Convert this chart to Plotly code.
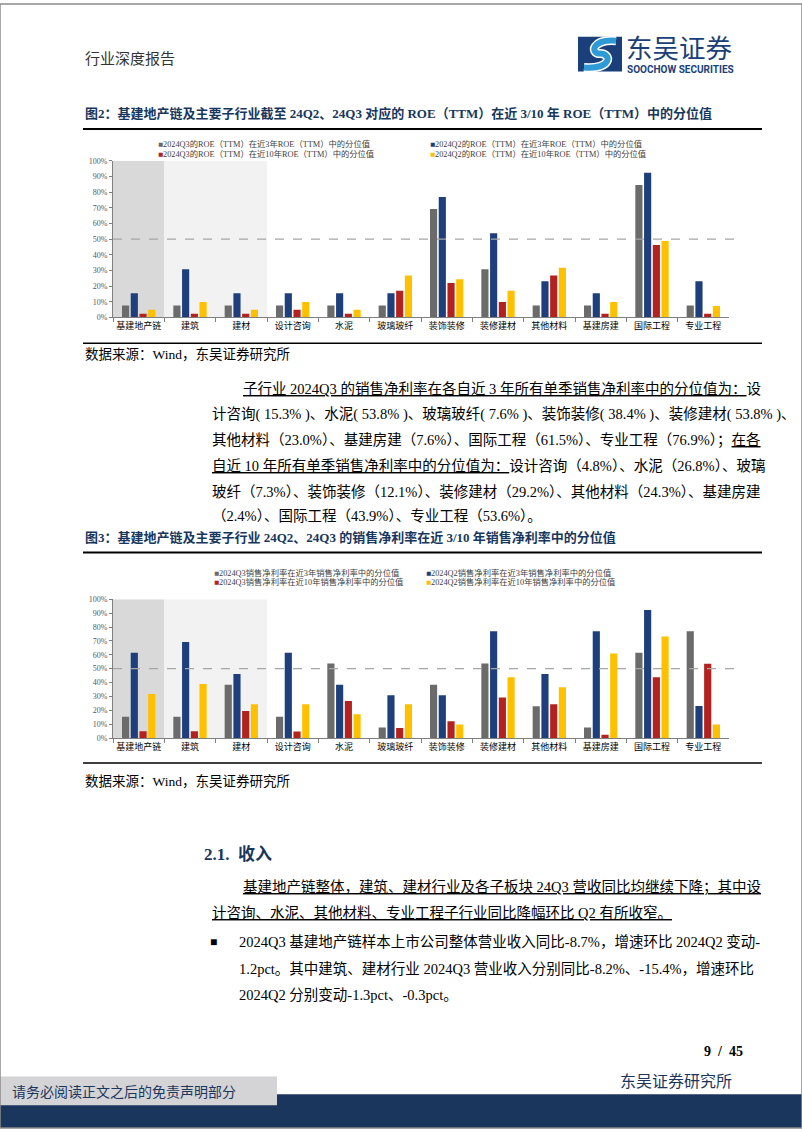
import plotly.graph_objects as go

W, H = 802, 1133

# ---------------- data ----------------
categories = ["基建地产链", "建筑", "建材", "设计咨询", "水泥", "玻璃玻纤",
              "装饰装修", "装修建材", "其他材料", "基建房建", "国际工程", "专业工程"]

roe_names = ["2024Q3的ROE（TTM）在近3年ROE（TTM）中的分位值",
             "2024Q2的ROE（TTM）在近3年ROE（TTM）中的分位值",
             "2024Q3的ROE（TTM）在近10年ROE（TTM）中的分位值",
             "2024Q2的ROE（TTM）在近10年ROE（TTM）中的分位值"]
roe_q3_3y = [7.7, 7.7, 7.7, 7.7, 7.7, 7.7, 69.2, 30.8, 7.7, 7.7, 84.6, 7.7]
roe_q2_3y = [15.4, 30.8, 15.4, 15.4, 15.4, 15.4, 76.9, 53.8, 23.1, 15.4, 92.3, 23.1]
roe_q3_10y = [2.4, 2.4, 2.4, 4.9, 2.4, 17.1, 22.0, 9.8, 26.8, 2.4, 46.3, 2.4]
roe_q2_10y = [4.9, 9.8, 4.9, 9.8, 4.9, 26.8, 24.4, 17.1, 31.7, 9.8, 48.8, 7.3]

npm_names = ["2024Q3销售净利率在近3年销售净利率中的分位值",
             "2024Q2销售净利率在近3年销售净利率中的分位值",
             "2024Q3销售净利率在近10年销售净利率中的分位值",
             "2024Q2销售净利率在近10年销售净利率中的分位值"]
npm_q3_3y = [15.4, 15.4, 38.5, 15.3, 53.8, 7.6, 38.4, 53.8, 23.0, 7.6, 61.5, 76.9]
npm_q2_3y = [61.5, 69.2, 46.2, 61.5, 38.5, 30.8, 30.8, 76.9, 46.2, 76.9, 92.3, 23.1]
npm_q3_10y = [4.9, 4.9, 19.5, 4.8, 26.8, 7.3, 12.1, 29.2, 24.3, 2.4, 43.9, 53.6]
npm_q2_10y = [31.7, 39.0, 24.4, 24.4, 17.1, 24.4, 9.8, 43.9, 36.6, 61.0, 73.2, 9.8]

y_ticks = [0, 10, 20, 30, 40, 50, 60, 70, 80, 90, 100]
y_tick_labels = ["0%", "10%", "20%", "30%", "40%", "50%", "60%", "70%", "80%", "90%", "100%"]

# ---------------- style ----------------
colors = ["#6B6B6B", "#1F3F7C", "#B3221F", "#FFC000"]
SERIF = "Liberation Serif, Times New Roman, Noto Sans CJK SC"
CJK = "Noto Sans CJK SC, Liberation Serif"
NAVY = "#17375E"


def px(x):
    return x / W


def py(y):
    return 1 - y / H


annotations = []
shapes = []


def text(x, y, s, size, color="#000000", bold=False, xanchor="left", family=SERIF):
    if bold:
        s = "<b>" + s + "</b>"
    annotations.append(dict(x=px(x), y=py(y), xref="paper", yref="paper", text=s,
                            showarrow=False, xanchor=xanchor, yanchor="middle",
                            font=dict(size=size, color=color, family=family)))


def hline(x0, x1, y, color="#000000", width=1.0, dash="solid"):
    shapes.append(dict(type="line", xref="paper", yref="paper", x0=px(x0), x1=px(x1),
                       y0=py(y), y1=py(y), line=dict(color=color, width=width, dash=dash)))


def rect(x0, y0, x1, y1, fill, line=None, lw=0):
    shapes.append(dict(type="rect", xref="paper", yref="paper", x0=px(x0), x1=px(x1),
                       y0=py(y1), y1=py(y0), fillcolor=fill,
                       line=dict(color=line or fill, width=lw), layer="below"))


def path(points_cmd, fill=None, color="#000", width=1):
    parts = []
    for item in points_cmd:
        if isinstance(item, str):
            parts.append(item)
        else:
            parts.append("%.5f,%.5f" % (px(item[0]), py(item[1])))
    shapes.append(dict(type="path", xref="paper", yref="paper", path=" ".join(parts),
                       fillcolor=fill if fill else "rgba(0,0,0,0)",
                       line=dict(color=color, width=width)))


fig = go.Figure()

X0, X1 = 113, 729
charts = [
    dict(xa="x", ya="y", series=[roe_q3_3y, roe_q2_3y, roe_q3_10y, roe_q2_10y], names=roe_names),
    dict(xa="x2", ya="y2", series=[npm_q3_3y, npm_q2_3y, npm_q3_10y, npm_q2_10y], names=npm_names),
]

for c in charts:
    for vals, name, col in zip(c["series"], c["names"], colors):
        fig.add_trace(go.Bar(x=categories, y=vals, name=name, marker_color=col,
                             marker_line_width=0, xaxis=c["xa"], yaxis=c["ya"],
                             showlegend=False))

axis_common_x = dict(type="category", showline=True, linecolor="#7F7F7F", linewidth=1,
                     ticks="outside", tickson="boundaries", ticklen=4, tickcolor="#7F7F7F",
                     tickangle=0,
                     tickfont=dict(size=9, color="#000", family=CJK), showgrid=False,
                     range=[-0.5, 11.5], fixedrange=True)
axis_common_y = dict(range=[0, 100], tickmode="array", tickvals=y_ticks, ticktext=y_tick_labels,
                     showline=True, linecolor="#7F7F7F", linewidth=1, ticks="outside", ticklen=3,
                     tickcolor="#7F7F7F", tickfont=dict(size=8, color="#595959", family=SERIF),
                     showgrid=False, zeroline=False, fixedrange=True)

fig.update_layout(
    xaxis=dict(domain=[px(X0), px(X1)], anchor="y", **axis_common_x),
    yaxis=dict(domain=[py(316), py(158)], anchor="x", **axis_common_y),
    xaxis2=dict(domain=[px(X0), px(X1)], anchor="y2", **axis_common_x),
    yaxis2=dict(domain=[py(740), py(600)], anchor="x2", **axis_common_y),
)

# shaded regions and 50% dashed lines in each chart
for c in charts:
    xr, yr = c["xa"], c["ya"]
    shapes.append(dict(type="rect", xref=xr, yref=yr, x0=-0.5, x1=0.5, y0=0, y1=100,
                       fillcolor="#D9D9D9", line=dict(width=0), layer="below"))
    shapes.append(dict(type="rect", xref=xr, yref=yr, x0=0.5, x1=2.5, y0=0, y1=100,
                       fillcolor="#F2F2F2", line=dict(width=0), layer="below"))
    shapes.append(dict(type="line", xref=xr + " domain", yref=yr + " domain", x0=0, x1=1.017,
                       y0=0.5, y1=0.5, line=dict(color="#A6A6A6", width=1.2, dash="dash")))


# legends (two columns, two rows)
def legend(names, xcols, yrows):
    pos = [(xcols[0], yrows[0]), (xcols[1], yrows[0]), (xcols[0], yrows[1]), (xcols[1], yrows[1])]
    for (x, y), n, col in zip(pos, names, colors):
        annotations.append(dict(x=px(x), y=py(y), xref="paper", yref="paper",
                                text="<span style='color:%s'>■</span>%s" % (col, n),
                                showarrow=False, xanchor="left", yanchor="middle",
                                font=dict(size=8.3, color="#404040", family=SERIF)))


legend(roe_names, [156, 428], [141.5, 151])
legend(npm_names, [212, 424], [573.5, 583])

# ---------------- page decoration ----------------
# header
text(83, 54, "行业深度报告", 15, "#333333", family=CJK)
# logo
rect(578, 33, 622, 68, "#1B3F7A")
path(["M", (616, 37), "C", (592, 35), (590, 50), (600, 50), "C", (612, 50), (612, 66), (584, 64)],
     color="#FFFFFF", width=9)
path(["M", (616, 37), "C", (592, 35), (590, 50), (600, 50), "C", (612, 50), (612, 66), (584, 64)],
     color="#2E9AD6", width=6)
text(624, 43, "东吴证券", 26.5, "#1B3F7A", family=CJK)
text(625, 66.5, "<b>SOOCHOW SECURITIES</b>", 10, "#1B3F7A", family="Roboto, Liberation Sans")

# figure 2 title
text(83, 110, "图2：基建地产链及主要子行业截至 24Q2、24Q3 对应的 ROE（TTM）在近 3/10 年 ROE（TTM）中的分位值",
     13, NAVY, bold=True)
hline(83, 762, 126, "#000000", 2)
hline(83, 762, 342, "#000000", 1.5)
text(83, 353, "数据来源：Wind，东吴证券研究所", 13.5, "#000000")

BODY = 14.5
# paragraph 1
p1 = [
    (241, 388, "<u>子行业 2024Q3 的销售净利率在各自近 3 年所有单季销售净利率中的分位值为：</u>设"),
    (210, 414, "计咨询( 15.3% )、水泥( 53.8% )、玻璃玻纤( 7.6% )、装饰装修( 38.4% )、装修建材( 53.8% )、"),
    (210, 440, "其他材料（23.0%）、基建房建（7.6%）、国际工程（61.5%）、专业工程（76.9%）；<u>在各</u>"),
    (210, 466, "<u>自近 10 年所有单季销售净利率中的分位值为：</u>设计咨询（4.8%）、水泥（26.8%）、玻璃"),
    (210, 492, "玻纤（7.3%）、装饰装修（12.1%）、装修建材（29.2%）、其他材料（24.3%）、基建房建"),
    (210, 516, "（2.4%）、国际工程（43.9%）、专业工程（53.6%）。"),
]
for x, y, s in p1:
    text(x, y, s, BODY, "#000000")

# figure 3 title
text(83, 538, "图3：基建地产链及主要子行业 24Q2、24Q3 的销售净利率在近 3/10 年销售净利率中的分位值",
     13, NAVY, bold=True)
hline(83, 762, 553, "#000000", 2)
hline(83, 762, 765, "#000000", 1.5)
text(83, 784, "数据来源：Wind，东吴证券研究所", 13.5, "#000000")

# section 2.1
text(202, 857, "2.1.  收入", 17, NAVY, bold=True)
p2 = [
    (241, 890, "<u>基建地产链整体，建筑、建材行业及各子板块 24Q3 营收同比均继续下降；其中设</u>"),
    (210, 916, "<u>计咨询、水泥、其他材料、专业工程子行业同比降幅环比 Q2 有所收窄。</u>"),
    (237, 946, "2024Q3 基建地产链样本上市公司整体营业收入同比-8.7%，增速环比 2024Q2 变动-"),
    (237, 973, "1.2pct。其中建筑、建材行业 2024Q3 营业收入分别同比-8.2%、-15.4%，增速环比"),
    (237, 999, "2024Q2 分别变动-1.3pct、-0.3pct。"),
]
for x, y, s in p2:
    text(x, y, s, BODY, "#000000")
text(208, 946, "■", 12, "#000000")

# footer
text(745, 1056, "<b>9  /  45</b>", 14, "#000000", xanchor="right")
rect(0, 1099, 802, 1133, "#1B365D")
rect(0, 1081, 277, 1110, "#D4D4D6")
text(10, 1096, "请务必阅读正文之后的免责声明部分", 14, "#1B365D", family=CJK)
text(734, 1085, "东吴证券研究所", 16, "#1B365D", xanchor="right", family=CJK)

# page border
shapes.append(dict(type="rect", xref="paper", yref="paper", x0=0, x1=1, y0=0, y1=1,
                   line=dict(color="#8C8C8C", width=1.5), fillcolor="rgba(0,0,0,0)"))

fig.update_layout(
    width=W, height=H, autosize=False,
    margin=dict(l=0, r=0, t=0, b=0),
    paper_bgcolor="#FFFFFF", plot_bgcolor="rgba(0,0,0,0)",
    barmode="group", bargap=0.32, bargroupgap=0.18,
    showlegend=False,
    annotations=annotations, shapes=shapes,
)

fig.write_html("out.html", config={"displayModeBar": False})
